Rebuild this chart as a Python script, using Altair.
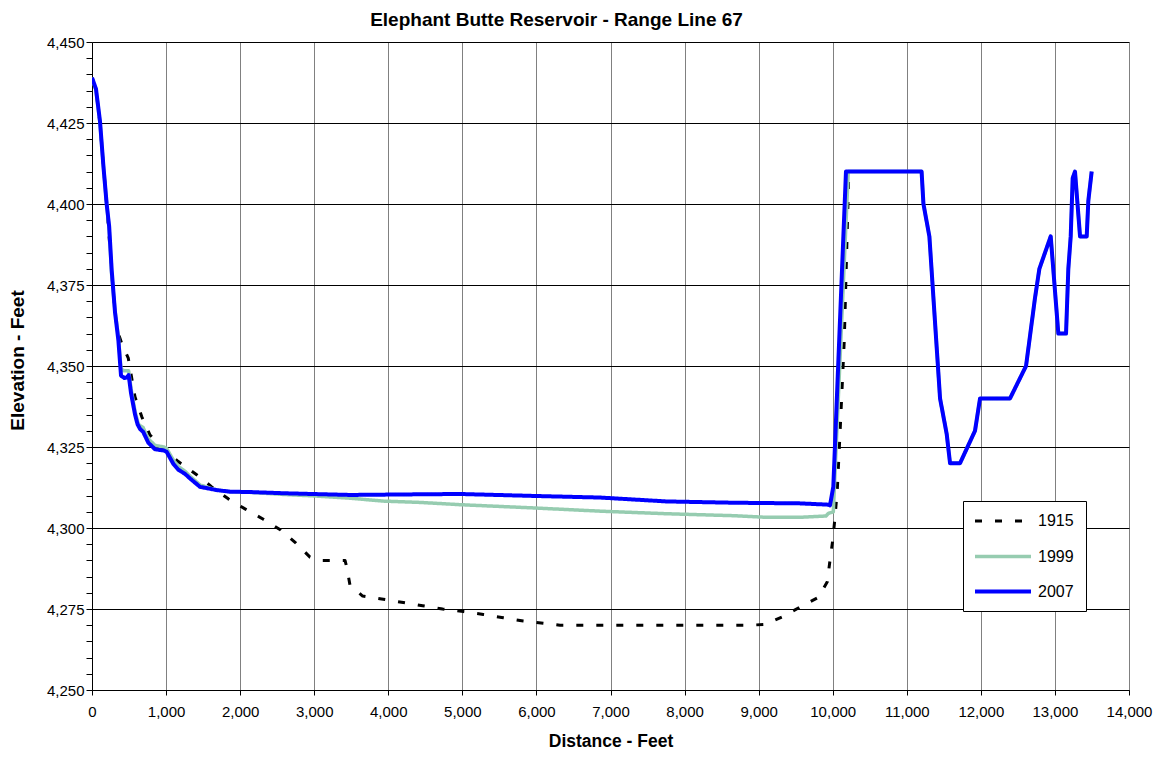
import altair as alt
import pandas as pd

years = ["1915", "1999", "2007"]

dist_1915 = [0, 54, 108, 153, 198, 250, 311, 356, 401, 490, 580, 671, 783, 931, 1165, 1404,
             1616, 1840, 2066, 2313, 2547, 2754, 2943, 3080, 3416, 3438, 3483, 3654, 3933,
             4203, 4464, 4734, 5013, 5283, 5553, 5823, 6093, 6318, 8861, 9075, 9333, 9558,
             9806, 9927, 9963, 9999, 10030, 10062, 10100, 10156, 10215]
elev_1915 = [4439, 4435, 4425, 4412, 4400, 4384, 4366, 4360, 4357, 4352.4, 4340.5, 4334.4,
             4328.7, 4325.1, 4320.5, 4316.6, 4312.7, 4309, 4305.9, 4302.7, 4299.4, 4295.3,
             4291, 4290, 4290, 4288, 4282.4, 4279, 4278, 4277, 4276, 4275, 4274.2, 4273.3,
             4272.3, 4271.3, 4270.6, 4270, 4270, 4270.2, 4272.7, 4275.6, 4278.6, 4283.4,
             4290, 4296, 4303, 4312, 4330, 4358, 4408]

dist_1999 = [0, 54, 108, 153, 198, 232, 266, 311, 356, 392, 437, 495, 527, 581, 626, 690,
             761, 851, 972, 1008, 1098, 1165, 1256, 1323, 1458, 1683, 1863, 2133, 2628,
             3000, 3483, 3933, 4428, 4968, 5958, 6858, 7758, 8658, 9108, 9558, 9909, 9941,
             10008, 10210, 11200, 11225, 11305, 11449, 11539, 11584, 11719, 11921, 11989,
             12394, 12610, 12731, 12790, 12943, 13046, 13150, 13181, 13213, 13240, 13271,
             13339, 13429, 13451, 13496]
elev_1999 = [4439, 4435, 4425, 4412, 4400, 4392, 4378, 4367, 4359, 4349, 4348.5, 4348.5,
             4343, 4336, 4332, 4331, 4327.5, 4325.5, 4325, 4324.5, 4321, 4319, 4317.5, 4316,
             4313.3, 4311.7, 4311.2, 4311, 4310.3, 4309.9, 4309.2, 4308.3, 4307.9, 4307.2,
             4306.2, 4305.2, 4304.4, 4303.8, 4303.3, 4303.3, 4303.7, 4304.5, 4305, 4410,
             4410, 4400, 4390, 4340, 4329, 4320, 4320, 4330, 4340, 4340, 4350, 4371, 4380,
             4390, 4360, 4360, 4380, 4390, 4408, 4410, 4390, 4390, 4401, 4410]

dist_2007 = [0, 54, 108, 153, 198, 232, 266, 311, 356, 392, 437, 470, 495, 527, 581, 615,
             650, 690, 761, 851, 972, 1008, 1098, 1165, 1256, 1323, 1458, 1683, 1863, 2133,
             2628, 3483, 4428, 4968, 5958, 6858, 7758, 8658, 9558, 9941, 9963, 10008, 10179,
             11200, 11225, 11305, 11449, 11539, 11584, 11719, 11921, 11989, 12394, 12610,
             12731, 12790, 12943, 13046, 13150, 13181, 13213, 13240, 13271, 13339, 13429,
             13451, 13496]
elev_2007 = [4439, 4435.5, 4425.5, 4412, 4400, 4393, 4379.5, 4366.5, 4358, 4347, 4346.3,
             4346.5, 4347.2, 4341.6, 4335, 4332, 4330.5, 4329.7, 4326.3, 4324.3, 4323.9,
             4323.5, 4319.8, 4318, 4316.7, 4315.3, 4312.7, 4311.7, 4311.2, 4311.1, 4310.7,
             4310.2, 4310.4, 4310.5, 4309.9, 4309.4, 4308.2, 4307.8, 4307.6, 4307.2, 4307,
             4312.7, 4410, 4410, 4400, 4390, 4340, 4329, 4320, 4320, 4330, 4340, 4340, 4350,
             4371, 4380, 4390, 4360, 4360, 4380, 4390, 4408, 4410, 4390, 4390, 4401, 4410]

x_ticks = list(range(0, 14001, 1000))
y_ticks = list(range(4250, 4451, 5))

series = [("1915", dist_1915, elev_1915), ("1999", dist_1999, elev_1999), ("2007", dist_2007, elev_2007)]
rows = []
for yr, ds, es in series:
    for i, (d, e) in enumerate(zip(ds, es)):
        rows.append({"Distance": d, "Elevation": e, "Year": yr, "idx": i})
df = pd.DataFrame(rows)

color_range = ["#000000", "#96CCB0", "#0000FF"]
dash_range = [[7, 13], [1, 0], [1, 0]]
width_range = [3, 4, 3]

FONT = "Liberation Sans"

legend = alt.Legend(
    title=None, orient="none", legendX=871, legendY=459,
    symbolType="M-4,0H4", symbolSize=196, symbolOffset=19.5,
    labelFontSize=16, labelFont=FONT, labelColor="#000000",
    strokeColor="#000000", fillColor="#FFFFFF",
    padding=11.5, rowPadding=18, labelOffset=26, cornerRadius=0,
)

chart = alt.Chart(df).mark_line(strokeCap="butt", strokeJoin="round", clip=True).encode(
    x=alt.X("Distance:Q", title="Distance - Feet",
            scale=alt.Scale(domain=[0, 14000], nice=False, zero=False),
            axis=alt.Axis(values=x_ticks, format=",d", gridColor="#808080", gridWidth=1,
                          domainColor="#000000", tickColor="#000000", tickSize=5,
                          labelPadding=9, labelFlush=False, labelFontSize=15,
                          titleFontSize=17.5, titleFontWeight="bold", titleY=51,
                          titleBaseline="middle")),
    y=alt.Y("Elevation:Q", title="Elevation - Feet",
            scale=alt.Scale(domain=[4250, 4450], nice=False, zero=False),
            axis=alt.Axis(values=y_ticks, format=",d",
                          labelExpr="datum.value % 25 === 0 ? format(datum.value, ',d') : ''",
                          gridColor="#000000", gridWidth=1,
                          gridOpacity={"condition": {"test": "datum.value % 25 === 0", "value": 1}, "value": 0},
                          domainColor="#000000", tickColor="#000000", tickSize=6,
                          labelPadding=2, labelFlush=False, labelFontSize=15,
                          titleFontSize=19, titleFontWeight="bold", titleX=-75, titleY=318,
                          titleAlign="center", titleBaseline="middle")),
    color=alt.Color("Year:N", scale=alt.Scale(domain=years, range=color_range), legend=legend),
    strokeDash=alt.StrokeDash("Year:N", scale=alt.Scale(domain=years, range=dash_range), legend=legend),
    strokeWidth=alt.StrokeWidth("Year:N", scale=alt.Scale(domain=years, range=width_range), legend=legend),
    order=alt.Order("idx:Q"),
).properties(
    width=1037, height=648,
    autosize=alt.AutoSizeParams(type="none"),
    padding={"left": 84, "top": 34, "right": 29, "bottom": 61},
    title=alt.TitleParams("Elephant Butte Reservoir - Range Line 67", font=FONT, fontSize=19,
                          fontWeight="bold", color="#000000", frame="group", anchor="middle",
                          offset=5, dx=-54),
).configure_view(stroke=None).configure_axis(
    labelFont=FONT, titleFont=FONT, labelColor="#000000", titleColor="#000000",
    domainWidth=1, tickWidth=1,
).configure(background="#FFFFFF")

chart.save("out.html", embed_options={"renderer": "svg", "actions": False})
